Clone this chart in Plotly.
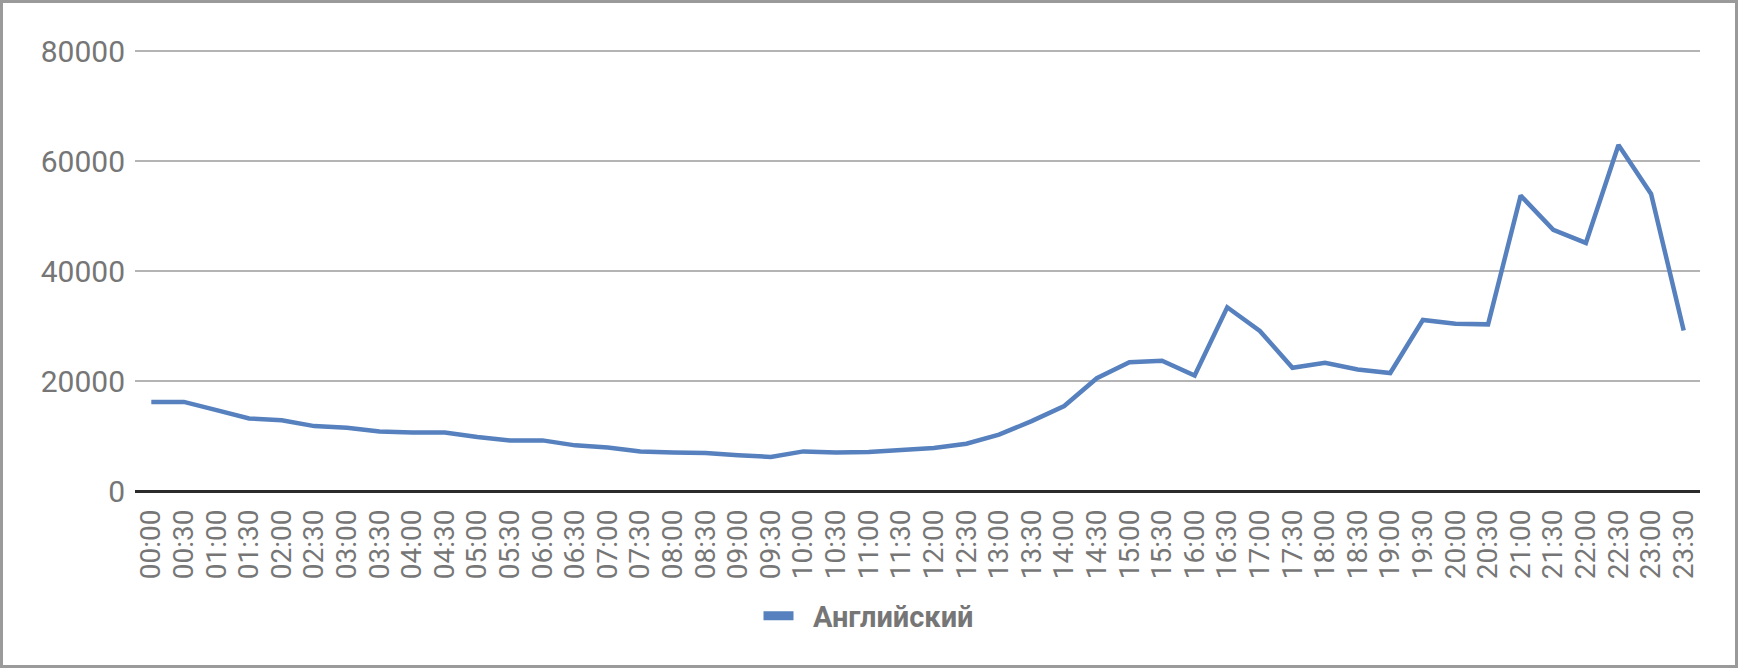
import plotly.graph_objects as go

times = ["00:00", "00:30", "01:00", "01:30", "02:00", "02:30", "03:00", "03:30",
         "04:00", "04:30", "05:00", "05:30", "06:00", "06:30", "07:00", "07:30",
         "08:00", "08:30", "09:00", "09:30", "10:00", "10:30", "11:00", "11:30",
         "12:00", "12:30", "13:00", "13:30", "14:00", "14:30", "15:00", "15:30",
         "16:00", "16:30", "17:00", "17:30", "18:00", "18:30", "19:00", "19:30",
         "20:00", "20:30", "21:00", "21:30", "22:00", "22:30", "23:00", "23:30"]

english = [16200, 16200, 14700, 13200, 12850, 11800, 11500, 10800, 10650, 10650,
           9800, 9200, 9200, 8300, 7900, 7200, 7000, 6900, 6500, 6200,
           7200, 7000, 7100, 7400, 7800, 8600, 10250, 12700, 15450, 20500,
           23400, 23700, 21000, 33400, 29100, 22400, 23300, 22100, 21450, 31100,
           30400, 30300, 53700, 47500, 45100, 62900, 54000, 29200]

series_name = "Английский"
y_ticks = [0, 20000, 40000, 60000, 80000]

W, H = 1738, 668
ML, MR, MT, MB = 135, 38, 49, 177
Y_TOP = 80364  # 80000 gridline sits 2px below plot top
LINE_COLOR = "#5681BE"
TEXT_COLOR = "#767676"

fig = go.Figure()
fig.add_trace(go.Scatter(
    x=times, y=english, mode="lines", name=series_name,
    line=dict(color=LINE_COLOR, width=4.5), showlegend=False,
))
# legend entry (thick short bar like the original)
fig.add_trace(go.Scatter(
    x=[None], y=[None], mode="lines", name="\u00a0\u00a0" + series_name,
    line=dict(color=LINE_COLOR, width=9), showlegend=True,
))

pw = W - ML - MR
ph = H - MT - MB
fig.add_shape(
    type="rect", xref="paper", yref="paper",
    x0=(1.5 - ML) / pw, x1=(W - 1.5 - ML) / pw,
    y0=(MT + ph - (H - 1.5)) / ph, y1=(MT + ph - 1.5) / ph,
    line=dict(color="#9a9a9a", width=3), fillcolor="rgba(0,0,0,0)", layer="below",
)

fig.update_layout(
    width=W, height=H,
    margin=dict(l=ML, r=MR, t=MT, b=MB, pad=0, autoexpand=False),
    paper_bgcolor="white", plot_bgcolor="white",
    font=dict(family="Roboto", color=TEXT_COLOR, size=30),
    legend=dict(
        orientation="h", xref="container", yref="container",
        x=0.5, xanchor="center", y=1 - 616 / H, yanchor="middle",
        font=dict(family="Roboto", size=29, color=TEXT_COLOR, weight="bold"),
        itemwidth=30,
    ),
    xaxis=dict(
        type="category", range=[-0.5, len(times) - 0.5],
        tickmode="array", tickvals=times, ticktext=times,
        showgrid=False, zeroline=False, showline=False,
        ticks="", tickangle=-90, automargin=False,
        tickfont=dict(family="Roboto", size=28, color=TEXT_COLOR),
        ticklabelstandoff=12,
    ),
    yaxis=dict(
        range=[0, Y_TOP], tickvals=y_ticks, ticktext=[str(v) for v in y_ticks],
        showgrid=True, gridcolor="#b4b4b4", gridwidth=2,
        zeroline=True, zerolinecolor="#2b2b2b", zerolinewidth=2.5,
        showline=False, ticks="", automargin=False,
        tickfont=dict(family="Roboto", size=30, color=TEXT_COLOR),
        ticklabelstandoff=9,
    ),
)

fig.write_html(
    "out.html",
    config={"displayModeBar": False},
    post_script="document.body.style.margin='0';",
)
